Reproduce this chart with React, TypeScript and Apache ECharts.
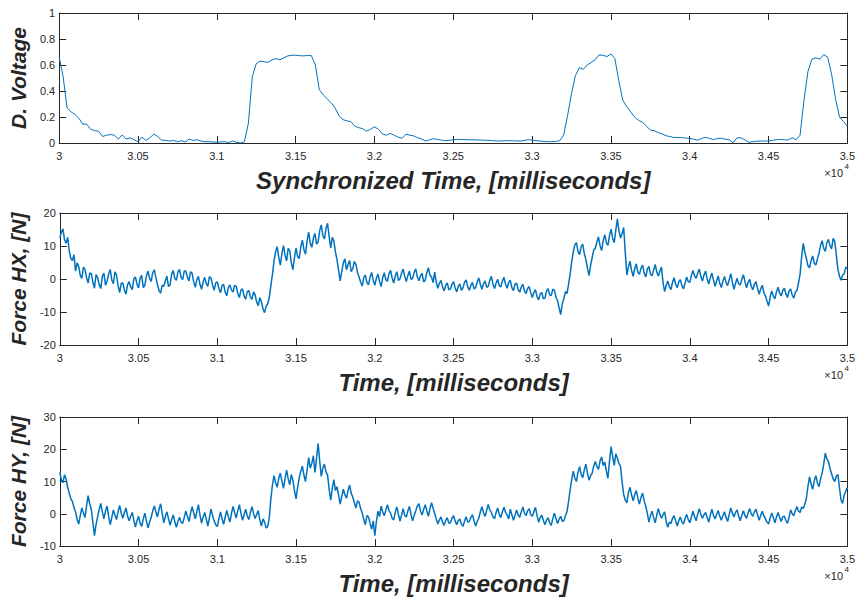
import React, { useEffect, useRef } from "react";
import * as echarts from "echarts";

// Sampling: all traces start at 30000 ms; voltage every 25 ms, forces every 10 ms.
const T0 = 30000;
const T1 = 35000;
const VOLTAGE_STEP = 25;
const FORCE_STEP = 10;

const xTicks = [30000, 30500, 31000, 31500, 32000, 32500, 33000, 33500, 34000, 34500, 35000];

// D. Voltage (V), 25 ms samples, 8 per row (200 ms per row)
const voltage = [
  0.66, 0.51, 0.27, 0.24, 0.22, 0.19, 0.145, 0.145,
  0.105, 0.095, 0.09, 0.05, 0.06, 0.065, 0.06, 0.03,
  0.062, 0.03, 0.04, 0.025, 0.01, 0.045, 0.02, 0.04,
  0.068, 0.05, 0.022, 0.02, 0.015, 0.02, 0.01, 0.018,
  0.008, 0.03, 0.02, 0.025, 0.015, 0.01, 0.01, 0.008,
  0.006, 0.008, 0.01, 0.003, 0.016, 0.005, 0.0, 0.01,
  0.15, 0.51, 0.61, 0.63, 0.625, 0.62, 0.64, 0.65,
  0.64, 0.655, 0.67, 0.675, 0.675, 0.672, 0.67, 0.673,
  0.672, 0.6, 0.41, 0.37, 0.34, 0.31, 0.27, 0.21,
  0.18, 0.17, 0.165, 0.13, 0.118, 0.11, 0.092, 0.105,
  0.125, 0.105, 0.07, 0.06, 0.074, 0.06, 0.045, 0.036,
  0.068, 0.06, 0.054, 0.04, 0.03, 0.015, 0.025, 0.033,
  0.028, 0.022, 0.018, 0.02, 0.025, 0.028, 0.027, 0.026,
  0.025, 0.025, 0.024, 0.022, 0.022, 0.02, 0.018, 0.015,
  0.016, 0.017, 0.018, 0.017, 0.016, 0.015, 0.02, 0.026,
  0.022, 0.018, 0.015, 0.012, 0.01, 0.01, 0.012, 0.018,
  0.06, 0.21, 0.38, 0.52, 0.58, 0.567, 0.6, 0.62,
  0.64, 0.677, 0.675, 0.665, 0.685, 0.65, 0.48, 0.33,
  0.28, 0.24, 0.2, 0.175, 0.16, 0.13, 0.1, 0.095,
  0.08, 0.07, 0.056, 0.05, 0.042, 0.043, 0.041, 0.038,
  0.035, 0.03, 0.021, 0.035, 0.044, 0.035, 0.026, 0.035,
  0.036, 0.03, 0.025, 0.002, 0.04, 0.04, 0.024, 0.005,
  0.01, 0.014, 0.015, 0.015, 0.016, 0.02, 0.026, 0.027,
  0.025, 0.023, 0.04, 0.025, 0.06, 0.33, 0.55, 0.645,
  0.655, 0.645, 0.68, 0.66, 0.53, 0.34, 0.2, 0.165,
  0.13,
];

// Force HX (N), 10 ms samples, 20 per row (200 ms per row)
const forceHX = [
  12.5, 14.1, 15.2, 11.9, 10.8, 12.6, 8.5, 6.2, 5.6, 7.4, 2.4, 4.9, 3.8, 1.1, 0.2, 3.6, 2.9, 0.4, -1.2, 1.8,
  1.6, -0.9, -2.8, 1.3, 0.4, -1.7, -2.9, 0.8, 1.8, -1.9, -0.6, 1.5, 2.9, -0.3, -1.4, 2.2, 1.2, -2.0, -4.1, -1.3,
  -1.2, -3.3, -4.6, -1.8, -0.8, -2.4, -3.2, 0.1, 0.6, -1.5, -2.7, 0.3, 1.1, -2.6, -1.9, 1.0, 2.4, 0.2, -0.7, 1.9,
  2.8, 0.4, -1.6, -3.5, -4.3, -1.9, -2.2, -0.6, 0.9, -2.3, -1.8, 1.4, 2.6, 0.2, -0.4, 2.1, 2.9, 0.5, -0.2, 2.4,
  2.4, 0.6, -0.6, 2.2, 1.7, -0.8, -2.5, -0.2, 0.8, -1.6, -3.1, -0.9, 0.5, -1.4, -2.2, 0.7, 0.3, -1.8, -3.4, -1.2,
  -0.9, -2.8, -4.2, -2.0, -1.6, -3.9, -5.1, -2.6, -1.8, -3.3, -4.0, -1.9, -2.2, -4.4, -5.6, -3.4, -3.0, -5.2, -6.1, -3.8,
  -3.5, -5.4, -6.2, -3.9, -4.8, -7.0, -8.1, -5.6, -6.9, -9.0, -10.2, -8.3, -7.5, -5.6, -2.0, 1.4, 5.5, 8.2, 9.8, 6.6,
  4.2, 7.6, 10.1, 7.2, 5.5, 9.3, 8.6, 4.9, 2.8, 6.5, 9.4, 6.8, 6.2, 9.7, 11.8, 8.9, 7.5, 11.6, 14.2, 10.8,
  9.6, 12.4, 13.8, 10.6, 11.2, 14.7, 16.4, 13.2, 12.1, 15.3, 16.9, 12.8, 9.4, 12.6, 11.5, 8.2, 5.8, 2.6, -0.6, 2.3,
  4.9, 6.1, 2.8, 4.4, 5.6, 2.2, 3.1, 5.3, 4.4, 1.9, 0.6, -1.0, -2.1, 0.5, 1.2, -1.1, -1.8, 0.6, 2.0, -0.4,
  -1.9, 0.2, 1.5, -0.8, -2.3, 0.4, 1.9, -0.2, -0.7, 1.6, 2.6, 0.3, -1.2, 0.9, 2.2, -0.5, 0.1, 1.8, 3.0, 0.8,
  -0.8, 1.1, 2.4, -0.1, 0.2, 2.0, 3.1, 0.6, -0.5, 0.9, 1.8, -0.9, -0.3, 1.9, 3.4, 1.2, 0.6, -1.1, 2.1, -1.0,
  -2.8, -1.3, -0.4, -2.4, -3.6, -1.9, -1.2, -3.3, -3.0, -1.6, -0.8, -2.7, -3.9, -2.2, -1.5, -3.4, -2.7, -0.9, -0.3, -2.4,
  -3.4, -1.9, -1.0, -3.0, -2.6, -0.9, 0.3, -1.6, -3.1, -1.4, -0.6, -2.5, -2.2, -0.4, 0.8, -1.5, -2.9, -1.2, -0.1, -2.0,
  -2.4, -0.6, 0.5, -1.6, -2.8, -1.0, -0.4, -2.6, -3.5, -1.5, -1.3, -3.2, -4.0, -2.4, -1.6, -3.6, -4.4, -2.9, -2.3, -4.1,
  -5.6, -4.1, -3.2, -5.4, -6.3, -4.5, -4.1, -6.0, -5.8, -3.7, -2.9, -4.8, -5.0, -3.1, -3.4, -5.5, -6.6, -8.7, -10.8, -7.4,
  -6.0, -3.8, -4.4, -1.6, 1.5, 5.2, 8.2, 10.4, 11.0, 8.3, 7.4, 9.8, 10.6, 7.7, 5.9, 3.2, 1.0, 4.1, 6.5, 8.8,
  9.4, 11.2, 12.8, 10.1, 8.6, 11.7, 13.4, 11.0, 10.2, 13.2, 15.1, 12.3, 11.0, 14.9, 18.2, 14.6, 12.4, 13.8, 15.6, 8.0,
  1.2, 3.6, 5.4, 2.6, 0.8, 3.1, 4.6, 2.0, 1.4, 3.3, 4.2, 1.8, 0.6, 2.9, 3.8, 1.5, 1.0, 2.7, 4.4, 2.1,
  0.9, 2.4, 3.6, -1.2, -3.8, -1.9, -0.6, -2.4, -3.2, -1.0, 0.4, -1.6, -2.6, -0.8, -0.2, -2.1, -3.0, -1.2, 0.6, -0.8,
  -1.0, 1.1, 2.6, 0.9, 0.2, 1.8, 3.0, 0.8, -0.6, 1.2, 2.4, 0.1, -1.5, 0.4, 1.8, -0.3, -2.2, -0.6, 0.9, -1.3,
  -2.6, -0.7, 0.8, -1.1, -2.0, -0.2, 1.6, -0.9, -3.1, -1.3, 0.2, -1.5, -1.8, -0.1, 1.3, -0.8, -2.7, -1.0, -0.1, -2.2,
  -3.3, -1.6, -0.8, -2.9, -4.6, -3.0, -1.9, -4.1, -5.2, -6.7, -8.2, -5.4, -3.6, -5.2, -6.0, -3.9, -2.5, -4.3, -5.1, -3.4,
  -2.8, -4.5, -5.6, -3.6, -3.0, -4.9, -5.8, -4.0, -3.4, -1.2, 1.5, 6.8, 10.8, 8.1, 6.2, 4.0, 3.4, 5.6, 7.0, 4.8,
  4.2, 6.1, 7.8, 10.2, 11.6, 9.3, 8.4, 11.0, 12.0, 10.1, 9.1, 12.3, 11.4, 7.2, 3.0, 0.8, -0.4, 1.2, 1.6, 3.6,
  3.2,
];

// Force HY (N), 10 ms samples, 20 per row (200 ms per row)
const forceHY = [
  12.8, 10.6, 9.6, 12.1, 10.8, 8.2, 6.4, 4.6, 3.8, 1.9, 0.6, -1.8, -3.2, -0.6, 1.8, 0.2, -1.2, 2.4, 5.6, 3.1,
  1.4, -2.6, -6.8, -3.4, -1.0, 1.4, 3.2, 0.6, -1.6, 0.8, 2.4, -0.9, -3.4, -1.2, 1.2, -0.4, -1.8, 0.7, 2.6, 0.2,
  -1.4, 0.3, 1.8, -0.6, -2.2, -0.8, 0.4, -2.0, -4.1, -2.2, -0.8, -2.9, -3.9, -1.6, 0.2, -2.3, -4.4, -2.6, -1.2, 0.9,
  2.4, 0.6, -1.0, 1.4, 3.1, 0.2, -2.8, -0.8, 0.6, -1.5, -3.6, -1.8, -0.4, -2.5, -4.2, -2.4, -1.1, -2.6, -3.0, -1.2,
  0.9, -0.8, -2.4, 0.1, 2.2, 0.3, -1.6, 0.6, 2.8, -0.4, -2.9, -1.0, 0.4, -1.7, -3.8, -1.2, 1.5, -0.6, -2.2, -3.4,
  -4.0, -1.6, 0.6, -1.5, -3.3, -1.0, 1.0, -0.9, -2.6, 0.1, 2.3, 0.4, -1.3, 0.9, 2.8, 0.2, -2.0, -0.3, 1.4, -0.6,
  -1.8, 0.4, 2.2, 0.1, -1.5, -0.2, 1.0, -1.9, -3.8, -1.6, -2.6, -4.4, -4.0, -1.2, 4.6, 8.9, 11.8, 9.6, 8.2, 11.0,
  12.6, 10.1, 7.9, 11.0, 13.5, 10.8, 9.0, 12.2, 10.4, 7.1, 4.6, 8.2, 11.2, 13.1, 14.8, 12.0, 10.0, 13.6, 17.4, 14.2,
  15.6, 18.0, 12.8, 17.1, 21.8, 16.4, 11.6, 14.2, 15.4, 13.0, 12.0, 7.6, 4.2, 8.0, 10.6, 7.2, 8.4, 5.8, 3.0, 5.4,
  7.6, 5.9, 4.8, 7.2, 8.9, 6.4, 5.2, 3.4, 1.8, 4.0, 3.6, 1.6, 0.2, -1.8, -3.4, -0.6, -1.0, -3.0, -4.8, -2.2,
  -6.8, -2.4, 0.8, -0.9, 2.4, 0.6, -0.6, 1.2, 2.8, 1.0, 0.2, -1.4, -1.9, 0.5, 2.1, -0.2, -2.3, -0.4, 1.6, -0.5,
  -1.0, 0.9, 2.3, -0.3, -2.2, -0.5, 0.9, 2.4, 3.1, 0.8, -0.4, 1.4, 2.8, 0.9, -0.8, 1.6, 3.4, 1.7, 0.1, -1.6,
  -3.2, -1.9, -1.0, -2.7, -3.6, -2.0, -1.2, -3.0, -2.8, -1.4, -0.6, -2.3, -3.4, -2.1, -1.6, -3.2, -3.9, -2.2, -0.9, -2.6,
  -2.4, -1.1, -0.3, -2.2, -3.8, -2.4, -1.4, 0.6, 2.2, 0.3, -0.8, 1.0, 2.9, 1.2, 0.4, -0.9, -1.6, 0.4, 1.8, -0.2,
  -1.2, 0.6, 2.0, 0.4, -0.4, -1.6, 1.4, -0.3, -2.0, -0.5, 1.2, -0.4, -1.1, 0.6, 2.1, 0.2, -0.6, 0.9, 1.6, -0.3,
  -0.8, 0.7, 2.0, -0.6, -2.6, -1.2, -0.4, -2.1, -3.4, -2.0, -1.2, -2.8, -3.6, -1.5, 0.2, -1.4, -3.0, -1.7, -0.8, -2.3,
  -2.2, -0.6, 0.6, 3.8, 7.4, 10.6, 13.2, 11.0, 10.0, 12.8, 14.6, 12.2, 11.2, 13.6, 15.4, 12.6, 10.4, 11.8, 12.6, 14.8,
  16.2, 14.6, 13.8, 16.4, 17.6, 15.0, 16.0, 13.2, 11.0, 16.4, 20.8, 17.8, 15.0, 18.6, 17.2, 15.6, 14.6, 9.8, 6.0, 4.2,
  3.4, 6.6, 8.2, 5.8, 4.0, 6.0, 7.2, 4.8, 3.0, 5.1, 6.4, 4.0, 2.4, 0.2, -2.6, -0.6, 0.8, -1.2, -2.8, -0.4,
  1.6, -0.2, -1.4, -0.3, 0.6, -2.4, -4.2, -2.6, -3.0, -1.4, -0.6, -2.2, -3.8, -2.1, -1.0, -2.6, -3.2, -1.4, -0.2, -1.8,
  -2.8, -1.0, 0.8, -0.9, -2.2, -0.1, 1.6, -0.2, -1.4, -0.3, 0.4, -1.2, -2.6, -0.4, 1.4, -0.5, -1.6, -0.2, 1.0, -0.8,
  -2.0, -0.6, 0.6, -1.2, -2.4, -0.2, 1.8, 0.2, -1.0, 0.4, 1.2, -0.7, -2.2, -0.5, 0.9, -0.6, -1.4, 0.3, 1.6, -0.1,
  -0.8, 0.6, 1.4, -0.4, -2.0, -0.5, 0.8, -0.6, -1.6, -2.6, -3.2, -1.3, 0.2, -1.2, -2.8, -1.0, 0.4, -1.1, -2.4, -0.9,
  -0.8, -2.1, -3.0, -1.0, 1.2, 0.0, -0.6, 1.0, 2.2, 0.8, 0.4, 2.1, 1.6, 3.0, 4.8, 8.6, 11.4, 9.2, 7.6, 10.2,
  11.8, 9.6, 8.4, 10.8, 12.6, 15.4, 18.8, 17.0, 16.2, 14.0, 12.4, 10.8, 10.0, 11.6, 12.2, 8.0, 4.2, 3.2, 5.8, 7.0,
  8.0,
];

const AX = "#262626";
const LINE = "#0072BD";
const FONT = "'Liberation Sans', Arial, Helvetica, sans-serif";

type Panel = {
  top: number;
  height: number;
  yMin: number;
  yMax: number;
  yInterval: number;
  yName: string;
  xName: string;
  values: number[];
  step: number;
  width: number;
  expY: number;
};

const panels: Panel[] = [
  { top: 13, height: 130, yMin: 0, yMax: 1, yInterval: 0.2, yName: "D. Voltage", xName: "Synchronized Time, [milliseconds]", values: voltage, step: VOLTAGE_STEP, width: 1, expY: 173 },
  { top: 213, height: 132, yMin: -20, yMax: 20, yInterval: 10, yName: "Force HX, [N]", xName: "Time, [milliseconds]", values: forceHX, step: FORCE_STEP, width: 1.5, expY: 375 },
  { top: 417, height: 129, yMin: -10, yMax: 30, yInterval: 10, yName: "Force HY, [N]", xName: "Time, [milliseconds]", values: forceHY, step: FORCE_STEP, width: 1.5, expY: 576 },
];

const toPoints = (vals: number[], step: number) => vals.map((v, i) => [T0 + i * step, v]);

const fmtX = (v: number) => String(+(v / 10000).toFixed(3));

function buildOption() {
  const grid: any[] = [];
  const xAxis: any[] = [];
  const yAxis: any[] = [];
  const series: any[] = [];
  const graphic: any[] = [];

  panels.forEach((p, i) => {
    grid.push({ left: 56, right: 9, top: p.top, height: p.height, containLabel: false });

    const tick = { show: true, inside: true, length: 7, lineStyle: { color: AX, width: 1 } };
    const line = { show: true, onZero: false, lineStyle: { color: AX, width: 1 } };

    xAxis.push({
      gridIndex: i,
      type: "value",
      position: "bottom",
      min: T0,
      max: T1,
      interval: 500,
      axisLine: line,
      axisTick: tick,
      splitLine: { show: false },
      axisLabel: {
        show: true,
        color: AX,
        fontSize: 11,
        fontFamily: FONT,
        margin: 7,
        showMinLabel: true,
        showMaxLabel: true,
        formatter: (v: number) => (xTicks.includes(v) ? fmtX(v) : ""),
      },
      name: p.xName,
      nameLocation: "middle",
      nameGap: 25,
      nameTextStyle: { color: AX, fontSize: 24, fontWeight: "bold", fontStyle: "italic", fontFamily: FONT },
    });
    xAxis.push({
      gridIndex: i,
      type: "value",
      position: "top",
      min: T0,
      max: T1,
      interval: 500,
      axisLine: line,
      axisTick: tick,
      splitLine: { show: false },
      axisLabel: { show: false },
    });

    yAxis.push({
      gridIndex: i,
      type: "value",
      position: "left",
      min: p.yMin,
      max: p.yMax,
      interval: p.yInterval,
      axisLine: line,
      axisTick: tick,
      splitLine: { show: false },
      axisLabel: { color: AX, fontSize: 11, fontFamily: FONT, margin: 4 },
      name: p.yName,
      nameLocation: "middle",
      nameGap: 25,
      nameTextStyle: { color: AX, fontSize: 21, fontWeight: "bold", fontStyle: "italic", fontFamily: FONT },
    });
    yAxis.push({
      gridIndex: i,
      type: "value",
      position: "right",
      min: p.yMin,
      max: p.yMax,
      interval: p.yInterval,
      axisLine: line,
      axisTick: tick,
      splitLine: { show: false },
      axisLabel: { show: false },
    });

    series.push({
      type: "line",
      xAxisIndex: 2 * i,
      yAxisIndex: 2 * i,
      data: toPoints(p.values, p.step),
      showSymbol: false,
      symbol: "none",
      lineStyle: { color: LINE, width: p.width },
      itemStyle: { color: LINE },
      clip: true,
    });

    // axis exponent marker under the right end of each time axis
    graphic.push({
      type: "text",
      right: 15,
      top: p.expY - 6,
      style: { text: "×10", fill: AX, font: `11px ${FONT}` },
    });
    graphic.push({
      type: "text",
      right: 9,
      top: p.expY - 11,
      style: { text: "4", fill: AX, font: `8px ${FONT}` },
    });
  });

  return {
    animation: false,
    backgroundColor: "#ffffff",
    textStyle: { fontFamily: FONT },
    grid,
    xAxis,
    yAxis,
    series,
    graphic,
  };
}

export default function App() {
  const ref = useRef<HTMLDivElement>(null);

  useEffect(() => {
    if (!ref.current) return;
    const chart = echarts.init(ref.current, undefined, { renderer: "svg" });
    chart.setOption(buildOption() as any);
    return () => chart.dispose();
  }, []);

  return (
    <div
      ref={ref}
      style={{ position: "fixed", left: 0, top: 0, width: 858, height: 600, background: "#fff" }}
    />
  );
}
